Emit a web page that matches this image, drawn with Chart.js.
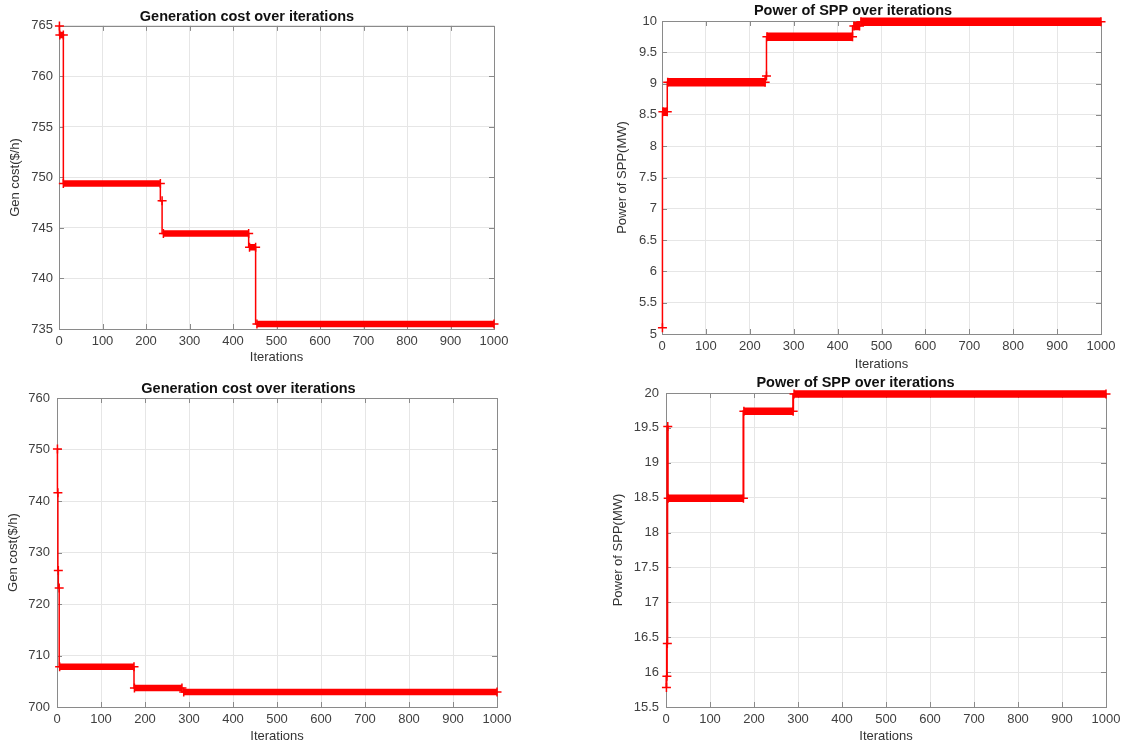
<!DOCTYPE html>
<html>
<head>
<meta charset="utf-8">
<title>Generation cost and SPP power</title>
<script src="https://cdn.jsdelivr.net/npm/chart.js@4.4.1/dist/chart.umd.min.js"></script>
<style>
  body { margin: 0; background: #fff; width: 1129px; height: 745px; overflow: hidden; position: relative; }
  .panel { position: absolute; }
</style>
</head>
<body>
<div class="panel" style="left:0;top:0;width:520px;height:369px"><canvas id="costA"></canvas></div>
<div class="panel" style="left:605px;top:0;width:524px;height:374px"><canvas id="sppA"></canvas></div>
<div class="panel" style="left:0;top:370px;width:520px;height:375px"><canvas id="costB"></canvas></div>
<div class="panel" style="left:605px;top:370px;width:524px;height:375px"><canvas id="sppB"></canvas></div>

<script>
// each run is a list of plateaus: first iteration, last iteration, value
const iterTicks = [0, 100, 200, 300, 400, 500, 600, 700, 800, 900, 1000];

// top left - generation cost, case A
const costA_start = [1, 2, 10, 237, 240, 438, 455];
const costA_end   = [1, 10, 233, 237, 436, 452, 1000];
const costA_value = [765.0, 764.1, 749.4, 747.7, 744.45, 743.1, 735.5];
const costA_ticks = [735, 740, 745, 750, 755, 760, 765];

// top right - SPP power, case A
const sppA_start = [1, 2, 13, 238, 239, 437, 453];
const sppA_end   = [1, 12, 235, 238, 434, 450, 1000];
const sppA_value = [5.1, 8.55, 9.02, 9.12, 9.75, 9.92, 9.99];
const sppA_ticks = [5, 5.5, 6, 6.5, 7, 7.5, 8, 8.5, 9, 9.5, 10];

// bottom left - generation cost, case B
const costB_start = [1, 2, 3, 5, 6, 176, 288];
const costB_end   = [1, 2, 3, 5, 175, 284, 1000];
const costB_value = [750.1, 741.6, 726.5, 723.1, 707.8, 703.7, 702.9];
const costB_ticks = [700, 710, 720, 730, 740, 750, 760];

// bottom right - SPP power, case B
const sppB_start = [1, 2, 3, 4, 5, 177, 291];
const sppB_end   = [1, 2, 3, 4, 176, 289, 1000];
const sppB_value = [15.78, 15.94, 16.41, 19.52, 18.49, 19.74, 19.985];
const sppB_ticks = [15.5, 16, 16.5, 17, 17.5, 18, 18.5, 19, 19.5, 20];

const RED = '#ff0000';
const FONT = '"Liberation Sans", Arial, sans-serif';

// matlab style box with inward tick marks, drawn under the data
const boxPlugin = {
  id: 'box',
  beforeDatasetsDraw(chart) {
    const { ctx, chartArea: a, scales } = chart;
    ctx.save();
    ctx.strokeStyle = '#8a8a8a';
    ctx.lineWidth = 1;
    ctx.beginPath();
    scales.x.ticks.forEach(t => {
      const px = Math.round(scales.x.getPixelForValue(t.value)) + 0.5;
      ctx.moveTo(px, a.bottom); ctx.lineTo(px, a.bottom - 5);
      ctx.moveTo(px, a.top); ctx.lineTo(px, a.top + 5);
    });
    scales.y.ticks.forEach(t => {
      const py = Math.round(scales.y.getPixelForValue(t.value)) + 0.5;
      ctx.moveTo(a.left, py); ctx.lineTo(a.left + 5, py);
      ctx.moveTo(a.right, py); ctx.lineTo(a.right - 5, py);
    });
    ctx.stroke();
    ctx.strokeRect(Math.round(a.left) + 0.5, Math.round(a.top) + 0.5,
      Math.round(a.right - a.left), Math.round(a.bottom - a.top));
    ctx.restore();
  }
};

function buildPath(start, end, value) {
  const pts = [];
  for (let i = 0; i < start.length; i++) {
    pts.push({ x: start[i], y: value[i] });
    if (end[i] > start[i]) pts.push({ x: end[i], y: value[i] });
  }
  return pts;
}

// thick segments where matlab's '+' markers pile up on a plateau
function buildBands(start, end, value) {
  const pts = [];
  for (let i = 0; i < start.length; i++) {
    if (end[i] - start[i] < 3) continue;
    pts.push({ x: start[i], y: value[i] }, { x: end[i], y: value[i] }, { x: end[i], y: null });
  }
  return pts;
}

function makeChart(id, c) {
  new Chart(document.getElementById(id), {
    type: 'line',
    data: {
      datasets: [
        {
          data: buildBands(c.start, c.end, c.value),
          borderColor: RED,
          borderWidth: c.bandWidth,
          borderCapStyle: 'butt',
          pointRadius: 0,
          spanGaps: false,
          clip: false
        },
        {
          data: buildPath(c.start, c.end, c.value),
          borderColor: RED,
          borderWidth: c.lineWidth,
          stepped: 'after',
          pointStyle: 'cross',
          pointRadius: 4.5,
          pointBorderWidth: 1.5,
          pointBorderColor: RED,
          clip: false
        }
      ]
    },
    options: {
      responsive: true,
      maintainAspectRatio: false,
      animation: false,
      layout: { padding: { right: c.padRight, top: 0, bottom: 0, left: 0 } },
      plugins: {
        legend: { display: false },
        tooltip: { enabled: false },
        title: {
          display: true,
          text: c.title,
          color: '#111',
          font: { family: FONT, size: 14.5, weight: 'bold' },
          padding: c.titlePad
        }
      },
      scales: {
        x: {
          type: 'linear',
          min: 0, max: 1000,
          afterBuildTicks: s => { s.ticks = iterTicks.map(v => ({ value: v })); },
          afterFit: s => { s.height = c.xHeight; },
          grid: { color: '#e6e6e6', drawTicks: false },
          border: { display: false },
          ticks: {
            color: '#404040', padding: c.xTickPad, maxRotation: 0,
            font: { family: FONT, size: 13 }, callback: v => String(v)
          },
          title: {
            display: true, text: 'Iterations', color: '#333',
            font: { family: FONT, size: 13 }, padding: { top: 0, bottom: c.xTitlePad }
          }
        },
        y: {
          type: 'linear',
          min: c.yTicks[0], max: c.yTicks[c.yTicks.length - 1],
          afterBuildTicks: s => { s.ticks = c.yTicks.map(v => ({ value: v })); },
          afterFit: s => { s.width = c.yWidth; },
          grid: { color: '#e6e6e6', drawTicks: false },
          border: { display: false },
          ticks: {
            color: '#404040', padding: c.yTickPad,
            font: { family: FONT, size: 13 }, callback: v => String(v)
          },
          title: {
            display: true, text: c.yLabel, color: '#333',
            font: { family: FONT, size: 13 }, padding: { top: c.yTitlePad, bottom: 0 }
          }
        }
      }
    },
    plugins: [boxPlugin]
  });
}

makeChart('costA', {
  title: 'Generation cost over iterations', yLabel: 'Gen cost($/h)',
  start: costA_start, end: costA_end, value: costA_value, yTicks: costA_ticks,
  yWidth: 59, xHeight: 40, padRight: 26, bandWidth: 6.5, lineWidth: 1.5,
  titlePad: { top: 8, bottom: 0.5 }, yTitlePad: 8, xTitlePad: 4, xTickPad: 5, yTickPad: 6
});

makeChart('sppA', {
  title: 'Power of SPP over iterations', yLabel: 'Power of SPP(MW)',
  start: sppA_start, end: sppA_end, value: sppA_value, yTicks: sppA_ticks,
  yWidth: 57, xHeight: 40, padRight: 28, bandWidth: 8.5, lineWidth: 1.5,
  titlePad: { top: 2.3, bottom: 1.3 }, yTitlePad: 10, xTitlePad: 2, xTickPad: 5, yTickPad: 5
});

makeChart('costB', {
  title: 'Generation cost over iterations', yLabel: 'Gen cost($/h)',
  start: costB_start, end: costB_end, value: costB_value, yTicks: costB_ticks,
  yWidth: 57, xHeight: 38, padRight: 23, bandWidth: 6.5, lineWidth: 1.5,
  titlePad: { top: 10.3, bottom: 0.3 }, yTitlePad: 6, xTitlePad: 1, xTickPad: 5, yTickPad: 7
});

makeChart('sppB', {
  title: 'Power of SPP over iterations', yLabel: 'Power of SPP(MW)',
  start: sppB_start, end: sppB_end, value: sppB_value, yTicks: sppB_ticks,
  yWidth: 61, xHeight: 38, padRight: 23, bandWidth: 7.5, lineWidth: 2,
  titlePad: { top: 4.3, bottom: 1.3 }, yTitlePad: 6, xTitlePad: 1, xTickPad: 5, yTickPad: 7
});
</script>
</body>
</html>
